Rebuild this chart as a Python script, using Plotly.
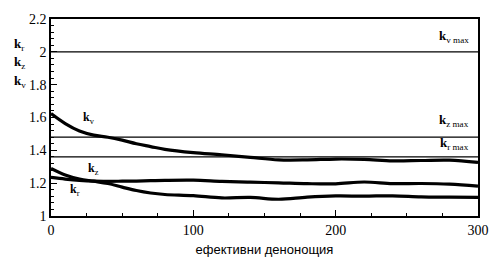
import plotly.graph_objects as go

days = [0, 10, 20, 30, 40, 50, 60, 70, 80, 100, 120, 140, 160, 180, 200, 220, 240, 260, 280, 300]
kv = [1.624, 1.563, 1.518, 1.493, 1.480, 1.462, 1.440, 1.423, 1.406, 1.386, 1.373, 1.357, 1.342, 1.342, 1.347, 1.345, 1.336, 1.338, 1.340, 1.326]
kr = [1.290, 1.250, 1.225, 1.212, 1.198, 1.176, 1.155, 1.140, 1.131, 1.124, 1.110, 1.113, 1.102, 1.115, 1.122, 1.121, 1.123, 1.117, 1.115, 1.113]
kz = [1.235, 1.225, 1.217, 1.212, 1.211, 1.212, 1.213, 1.215, 1.217, 1.218, 1.211, 1.206, 1.202, 1.197, 1.196, 1.207, 1.197, 1.198, 1.194, 1.182]

limits = {"v": 2.0, "z": 1.48, "r": 1.36}

serif = "Liberation Serif"

fig = go.Figure()
for ys in (kv, kr, kz):
    fig.add_trace(go.Scatter(x=days, y=ys, mode="lines", line=dict(color="black", width=3.2, shape="spline"),
                             showlegend=False, hoverinfo="skip"))

for val in limits.values():
    fig.add_hline(y=val, line=dict(color="black", width=1.2))

def klab(sub, extra=""):
    return "<b>k</b><sub>" + sub + extra + "</sub>"

ann = []
# curve labels
ann.append(dict(x=27, y=1.60, text=klab("v"), xref="x", yref="y", size=12))
ann.append(dict(x=30, y=1.285, text=klab("z"), xref="x", yref="y", size=12))
ann.append(dict(x=17, y=1.16, text=klab("r"), xref="x", yref="y", size=12))
# limit labels
ann.append(dict(x=295, y=2.095, text=klab("v", " max"), xref="x", yref="y", xanchor="right", size=13))
ann.append(dict(x=295, y=1.58, text=klab("z", " max"), xref="x", yref="y", xanchor="right", size=13))
ann.append(dict(x=295, y=1.44, text=klab("r", " max"), xref="x", yref="y", xanchor="right", size=13))
# axis labels
ann.append(dict(x=-0.092, y=0.925, text=klab("r"), xref="paper", yref="paper", size=13))
ann.append(dict(x=-0.092, y=0.835, text=klab("z"), xref="paper", yref="paper", size=13))
ann.append(dict(x=-0.092, y=0.738, text=klab("v"), xref="paper", yref="paper", size=13))

for a in ann:
    s = a.pop("size")
    a.update(showarrow=False, font=dict(family=serif, size=s, color="black"))
    fig.add_annotation(**a)

fig.update_xaxes(range=[0, 300], dtick=100, tick0=0, ticks="inside", ticklen=6, tickwidth=1,
                 tickcolor="black", showline=True, linecolor="black", linewidth=1.5, mirror=True,
                 showgrid=False, zeroline=False,
                 minor=dict(dtick=25, ticks="inside", ticklen=3, tickcolor="black", showgrid=False),
                 tickfont=dict(family=serif, size=14, color="black"),
                 title=dict(text="ефективни денонощия", font=dict(family="Liberation Sans", size=13, color="black"),
                            standoff=8))
fig.update_yaxes(range=[1, 2.2], dtick=0.2, tick0=1, ticks="inside", ticklen=6, tickwidth=1,
                 tickcolor="black", showline=True, linecolor="black", linewidth=1.5, mirror=True,
                 showgrid=False, zeroline=False,
                 minor=dict(dtick=0.04, ticks="inside", ticklen=3, tickcolor="black", showgrid=False),
                 tickfont=dict(family=serif, size=14, color="black"))

fig.update_layout(width=501, height=269, margin=dict(l=51, r=13, t=12, b=53),
                  plot_bgcolor="white", paper_bgcolor="white")

fig.write_html("out.html")
